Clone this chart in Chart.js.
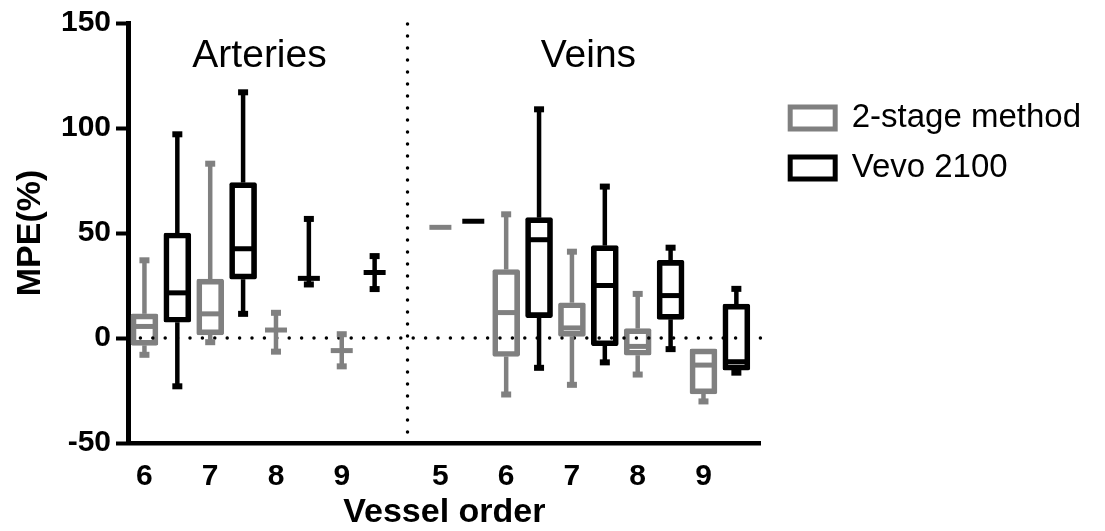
<!DOCTYPE html>
<html>
<head>
<meta charset="utf-8">
<title>MPE by vessel order</title>
<script src="https://cdn.jsdelivr.net/npm/chart.js@4.4.1/dist/chart.umd.min.js"></script>
<style>
  html, body { margin: 0; padding: 0; background: #fff; }
</style>
</head>
<body>
<canvas id="mpe" width="1105" height="531"></canvas>
<script>
// vessel groups and the orders shown in each
const groups = ["Arteries", "Veins"];
const arteryOrders = ["6", "7", "8", "9"];
const veinOrders = ["5", "6", "7", "8", "9"];

// 2-stage method: arteries 6-9, then veins 5-9
const twoStageMin    = [-8, -2, -6.5, -13.5,  52.7, -26.9, -22.3, -17.4, -30.2];
const twoStageQ1     = [-3.5, 1.5, 3.8, -6,   52.7, -8.8, 0.8, -8.2, -26.6];
const twoStageMedian = [5.5, 11.5, 3.8, -6,   52.7, 12.1, 4.8, -4, -12.9];
const twoStageQ3     = [11.5, 28, 3.8, -6,    52.7, 32.6, 16.8, 4.5, -5.2];
const twoStageMax    = [37, 83, 12, 1.8,      52.7, 58.9, 41.1, 21, -5.2];

// Vevo 2100
const vevoMin    = [-23, 11.5, 25.5, 23.3,   55.6, -14.2, -11.6, -5.3, -16.5];
const vevoQ1     = [7.5, 28, 28.4, 31.2,     55.6, 9.7, -3.7, 8.9, -15.3];
const vevoMedian = [21.5, 42.5, 28.4, 31.2,  55.6, 46.8, 25, 20.2, -11.3];
const vevoQ3     = [50, 74, 28.4, 31.2,      55.6, 57.3, 44, 37, 16.1];
const vevoMax    = [97, 117, 56.7, 39,       55.6, 108.9, 72.1, 43, 23.4];

const GRAY = "#808080";
const BLACK = "#000000";
const FONT = "Arial, 'Liberation Sans', Helvetica, sans-serif";

// each order takes two slots (2-stage, Vevo); one empty slot separates the groups
const veinStart = arteryOrders.length * 2 + 1;
const orderSlots = [
  ...arteryOrders.map((o, k) => 2 * k),
  ...veinOrders.map((o, k) => veinStart + 2 * k)
];
const separatorSlot = veinStart - 1;
const lastSlot = veinStart + veinOrders.length * 2 - 1;

const tickLabels = {};
[...arteryOrders, ...veinOrders].forEach((o, i) => { tickLabels[orderSlots[i]] = o; });

const series = [
  { label: "2-stage method", color: GRAY, offset: 0,
    min: twoStageMin, q1: twoStageQ1, med: twoStageMedian, q3: twoStageQ3, max: twoStageMax },
  { label: "Vevo 2100", color: BLACK, offset: 1,
    min: vevoMin, q1: vevoQ1, med: vevoMedian, q3: vevoQ3, max: vevoMax }
];

const BOX_W = 27;

// whiskers, caps, medians, dotted guides and group names
const boxPlotExtras = {
  id: "boxPlotExtras",
  afterDatasetsDraw(chart) {
    const { ctx, chartArea, scales: { x, y } } = chart;
    ctx.save();

    ctx.lineCap = "round";
    ctx.strokeStyle = "#000";
    ctx.lineWidth = 3.5;
    ctx.setLineDash([0, 12.4]);
    const y0 = y.getPixelForValue(0);
    ctx.beginPath();
    ctx.moveTo(chartArea.left, y0);
    ctx.lineTo(chartArea.right, y0);
    ctx.stroke();
    const xs = x.getPixelForValue(separatorSlot);
    ctx.setLineDash([0, 12]);
    ctx.beginPath();
    ctx.moveTo(xs, chartArea.top + 1);
    ctx.lineTo(xs, chartArea.bottom);
    ctx.stroke();
    ctx.setLineDash([]);
    ctx.lineCap = "butt";

    series.forEach(s => {
      ctx.strokeStyle = s.color;
      ctx.fillStyle = s.color;
      orderSlots.forEach((slot, i) => {
        const px = x.getPixelForValue(slot + s.offset);
        const yMin = y.getPixelForValue(s.min[i]);
        const yQ1 = y.getPixelForValue(s.q1[i]);
        const yMed = y.getPixelForValue(s.med[i]);
        const yQ3 = y.getPixelForValue(s.q3[i]);
        const yMax = y.getPixelForValue(s.max[i]);
        ctx.lineWidth = 4.5;
        if (s.max[i] > s.q3[i]) {
          ctx.beginPath();
          ctx.moveTo(px, yQ3);
          ctx.lineTo(px, yMax);
          ctx.stroke();
          ctx.fillRect(px - 5, yMax - 3, 10, 6);
        }
        if (s.min[i] < s.q1[i]) {
          ctx.beginPath();
          ctx.moveTo(px, yQ1);
          ctx.lineTo(px, yMin);
          ctx.stroke();
          ctx.fillRect(px - 5, yMin - 3, 10, 6);
        }
        ctx.lineWidth = 5;
        ctx.beginPath();
        ctx.moveTo(px - (BOX_W - 5) / 2, yMed);
        ctx.lineTo(px + (BOX_W - 5) / 2, yMed);
        ctx.stroke();
      });
    });

    ctx.fillStyle = "#000";
    ctx.font = "39px " + FONT;
    ctx.textAlign = "center";
    ctx.textBaseline = "middle";
    const spans = [[0, separatorSlot - 1], [veinStart, lastSlot]];
    groups.forEach((g, i) => {
      const cx = (x.getPixelForValue(spans[i][0]) + x.getPixelForValue(spans[i][1])) / 2;
      ctx.fillText(g, cx, chartArea.top + 33);
    });
    ctx.restore();
  }
};

Chart.defaults.font.family = FONT;
Chart.defaults.color = "#000";

new Chart(document.getElementById("mpe"), {
  type: "bar",
  data: {
    datasets: series.map(s => ({
      label: s.label,
      data: orderSlots.map((slot, i) => ({ x: slot + s.offset, y: [s.q1[i], s.q3[i]] })),
      backgroundColor: "rgba(0,0,0,0)",
      borderColor: s.color,
      borderWidth: 5,
      borderSkipped: false,
      borderRadius: 2,
      barThickness: BOX_W,
      grouped: false
    }))
  },
  options: {
    responsive: false,
    animation: false,
    events: [],
    layout: { padding: { top: 22, right: 14, bottom: 0, left: 0 } },
    plugins: {
      tooltip: { enabled: false },
      legend: {
        position: "right",
        align: "start",
        maxWidth: 340,
        title: { display: true, text: "", font: { size: 1, lineHeight: 1 }, padding: { top: 61.5, bottom: 0 } },
        labels: {
          boxWidth: 45,
          boxHeight: 22,
          padding: 17,
          color: "#000",
          font: { size: 33 }
        }
      }
    },
    scales: {
      x: {
        type: "linear",
        bounds: "data",
        offset: false,
        min: -0.5,
        max: lastSlot + 0.74,
        afterFit: s => { s.height = 88; },
        afterBuildTicks: s => { s.ticks = orderSlots.map(v => ({ value: v })); },
        grid: { offset: false, drawOnChartArea: false, drawTicks: false },
        border: { display: true, width: 4.5, color: "#000" },
        ticks: {
          autoSkip: false,
          maxRotation: 0,
          padding: 15.5,
          font: { size: 30, weight: "bold" },
          callback: v => tickLabels[v] || ""
        },
        title: {
          display: true,
          text: "Vessel order",
          font: { size: 34, weight: "bold", lineHeight: 1 },
          padding: { top: 0, bottom: 1 }
        }
      },
      y: {
        min: -50,
        max: 150,
        afterFit: s => { s.width = 128; },
        grid: { drawOnChartArea: false, drawTicks: true, tickLength: 12, tickWidth: 4, tickColor: "#000" },
        border: { display: true, width: 5, color: "#000" },
        ticks: {
          stepSize: 50,
          padding: 5,
          font: { size: 30, weight: "bold" }
        },
        title: {
          display: true,
          text: "MPE(%)",
          font: { size: 34, weight: "bold", lineHeight: 1 },
          padding: { top: 14, bottom: 0 }
        }
      },
      // keeps a small gap between the plot and the legend
      gap: {
        type: "linear",
        position: "right",
        display: true,
        afterFit: s => { s.width = 12.5; },
        grid: { display: false, drawTicks: false },
        border: { display: false },
        ticks: { display: false }
      }
    }
  },
  plugins: [boxPlotExtras]
});
</script>
</body>
</html>
